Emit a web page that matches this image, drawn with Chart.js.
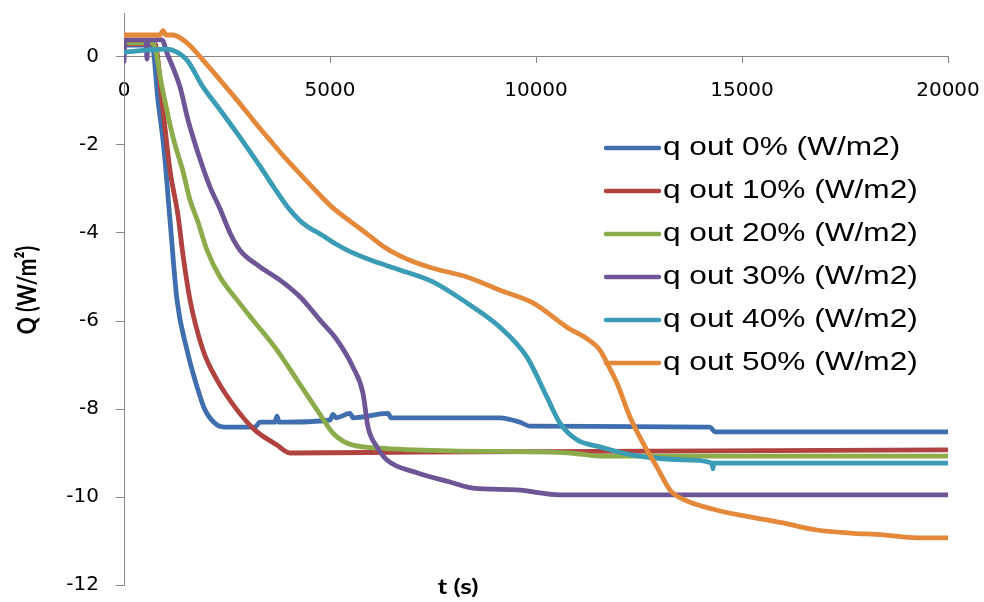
<!DOCTYPE html>
<html>
<head>
<meta charset="utf-8">
<script src="https://cdn.jsdelivr.net/npm/chart.js@4.4.1/dist/chart.umd.min.js"></script>
<style>
  html, body { margin: 0; padding: 0; background: #fff; }
  #wrap { width: 984px; height: 602px; }
</style>
</head>
<body>
<div id="wrap"><canvas id="qChart" width="984" height="602"></canvas></div>
<script>
// series values (t in s, Q in W/m2)
const seriesNames = ["q out 0% (W/m2)", "q out 10% (W/m2)", "q out 20% (W/m2)",
                     "q out 30% (W/m2)", "q out 40% (W/m2)", "q out 50% (W/m2)"];
const seriesColors = ["#3f6fae", "#b0433f", "#8cab4b", "#6d5596", "#3a9cb5", "#e4883a"];

const t0 = [0, 680, 825, 971, 1116, 1286, 1529, 1723, 1966, 2257, 2451, 3179, 3301, 3665, 3713, 3762, 5000, 5072, 5145, 5485, 5558, 6407, 6480, 9126, 9611, 9854, 14222, 14344, 20000];
const q0 = [0.27, 0.27, -0.98, -2.1, -3.7, -5.52, -6.66, -7.34, -8.02, -8.36, -8.41, -8.41, -8.3, -8.3, -8.16, -8.3, -8.25, -8.12, -8.2, -8.1, -8.2, -8.1, -8.2, -8.2, -8.3, -8.39, -8.41, -8.52, -8.52];

const t10 = [0, 752, 922, 1116, 1311, 1432, 1602, 1917, 2257, 2743, 3179, 3713, 4029, 7184, 20000];
const q10 = [0.3, 0.3, -1.0, -2.57, -3.6, -4.5, -5.52, -6.66, -7.34, -8.02, -8.48, -8.82, -9.0, -8.98, -8.93];

const t20 = [0, 704, 922, 1189, 1432, 1602, 1796, 2014, 2330, 2743, 3131, 3713, 4199, 4684, 5072, 5315, 5558, 6213, 7912, 10824, 11552, 20000];
const q20 = [0.32, 0.32, -0.68, -1.82, -2.6, -3.25, -3.75, -4.39, -5.0, -5.52, -5.98, -6.66, -7.34, -8.02, -8.55, -8.73, -8.82, -8.89, -8.95, -9.0, -9.07, -9.07];

const t30 = [0, 24, 534, 558, 582, 922, 1044, 1359, 1553, 1796, 2087, 2330, 2573, 2815, 3301, 3786, 4272, 4757, 5169, 5558, 5800, 5922, 6140, 6383, 7111, 7912, 8470, 9538, 10582, 20000];
const q30 = [-0.1, 0.39, 0.39, -0.05, 0.39, 0.39, 0.09, -0.68, -1.43, -2.18, -2.95, -3.45, -4.0, -4.39, -4.77, -5.07, -5.45, -5.98, -6.43, -7.05, -7.64, -8.41, -8.86, -9.16, -9.45, -9.66, -9.8, -9.84, -9.95, -9.95];

const t40 = [0, 995, 1165, 1529, 1917, 2330, 2743, 3058, 3349, 3665, 3980, 4272, 4514, 4757, 5121, 5412, 5970, 6698, 7499, 8325, 9126, 9781, 10266, 10582, 10994, 11552, 12354, 13737, 14271, 14295, 14319, 20000];
const q40 = [0.11, 0.18, 0.16, -0.07, -0.68, -1.2, -1.73, -2.15, -2.55, -3.0, -3.42, -3.72, -3.89, -4.02, -4.24, -4.39, -4.61, -4.84, -5.11, -5.59, -6.14, -6.82, -7.73, -8.32, -8.7, -8.86, -9.05, -9.16, -9.23, -9.36, -9.23, -9.23];

const t50 = [0, 874, 947, 1019, 1189, 1529, 1917, 2330, 2743, 3131, 3543, 3956, 4344, 4757, 5072, 5485, 5898, 6286, 6698, 7111, 7499, 8325, 9126, 9926, 10752, 11310, 11552, 11747, 11965, 12281, 12596, 12936, 13251, 13567, 14392, 15193, 15994, 16819, 17620, 18421, 19246, 20000];
const q50 = [0.5, 0.5, 0.6, 0.5, 0.5, 0.32, -0.07, -0.52, -0.98, -1.43, -1.89, -2.34, -2.73, -3.14, -3.43, -3.73, -4.02, -4.3, -4.52, -4.68, -4.8, -5.0, -5.3, -5.59, -6.14, -6.45, -6.66, -7.0, -7.41, -8.18, -8.77, -9.32, -9.84, -10.05, -10.3, -10.45, -10.59, -10.75, -10.82, -10.86, -10.93, -10.93];

const xTicks = [0, 5000, 10000, 15000, 20000];
const yTicks = [-12, -10, -8, -6, -4, -2, 0];

const tAll = [t0, t10, t20, t30, t40, t50];
const qAll = [q0, q10, q20, q30, q40, q50];

const axisGray = "#868686";

function zip(ts, qs) {
  return ts.map((t, i) => ({ x: t, y: qs[i] }));
}

const datasets = seriesNames.map((name, i) => ({
  label: name,
  data: zip(tAll[i], qAll[i]),
  borderColor: seriesColors[i],
  backgroundColor: seriesColors[i],
  borderWidth: 4.8,
  pointRadius: 0,
  cubicInterpolationMode: "monotone",
  fill: false,
  borderJoinStyle: "round",
  borderCapStyle: "round",
  order: seriesNames.length - i // later series drawn on top, like Excel
}));

// the reference picture is stretched sideways, so its text is too
function wideText(ctx, text, x, y, sx, align) {
  ctx.save();
  ctx.translate(x, y);
  ctx.scale(sx, 1);
  ctx.textAlign = align;
  ctx.textBaseline = "middle";
  ctx.fillText(text, 0, 0);
  ctx.restore();
}

const extras = {
  id: "extras",
  afterDraw(chart) {
    const ctx = chart.ctx;
    ctx.save();
    ctx.fillStyle = "#000";

    // axis titles
    ctx.font = "bold 21px Lato";
    wideText(ctx, "t (s)", 458, 587, 1.25, "center");

    ctx.save();
    ctx.translate(28, 290);
    ctx.scale(1.25, 1);
    ctx.rotate(-Math.PI / 2);
    ctx.textAlign = "center";
    ctx.textBaseline = "middle";
    ctx.fillText("Q (W/m\u00B2)", 0, 0);
    ctx.restore();

    // legend
    ctx.font = "25.5px 'Liberation Sans'";
    seriesNames.forEach((name, i) => {
      const y = 148 + i * 43;
      ctx.strokeStyle = seriesColors[i];
      ctx.lineWidth = 4.5;
      ctx.lineCap = "round";
      ctx.beginPath();
      ctx.moveTo(606, y);
      ctx.lineTo(659, y);
      ctx.stroke();
      wideText(ctx, name, 663, y, 1.24, "left");
    });
    ctx.restore();
  }
};

new Chart(document.getElementById("qChart"), {
  type: "line",
  data: { datasets },
  options: {
    responsive: false,
    animation: false,
    layout: { autoPadding: false, padding: { left: 0, top: 13, right: 36, bottom: 17 } },
    plugins: { legend: { display: false }, tooltip: { enabled: false } },
    scales: {
      x: {
        type: "linear",
        position: { y: 0 },
        min: 0,
        max: 20000,
        afterBuildTicks: s => { s.ticks = xTicks.map(v => ({ value: v })); },
        afterFit: s => { s.paddingLeft = 0; s.paddingRight = 0; },
        ticks: {
          callback: v => String(v),
          font: { family: "DejaVu Sans", size: 20 },
          color: "#000",
          padding: 16,
          maxRotation: 0,
          autoSkip: false
        },
        grid: { drawOnChartArea: false, drawTicks: true, tickLength: 6, color: axisGray },
        border: { color: axisGray, width: 1 }
      },
      y: {
        type: "linear",
        min: -12,
        max: 1,
        afterBuildTicks: s => { s.ticks = yTicks.map(v => ({ value: v })); },
        afterFit: s => { s.width = 124; s.paddingTop = 0; s.paddingBottom = 0; },
        ticks: {
          callback: v => String(v),
          font: { family: "DejaVu Sans", size: 20 },
          color: "#000",
          padding: 17
        },
        grid: { drawOnChartArea: false, drawTicks: true, tickLength: 8, color: axisGray },
        border: { color: axisGray, width: 1 }
      }
    }
  },
  plugins: [extras]
});
</script>
</body>
</html>
